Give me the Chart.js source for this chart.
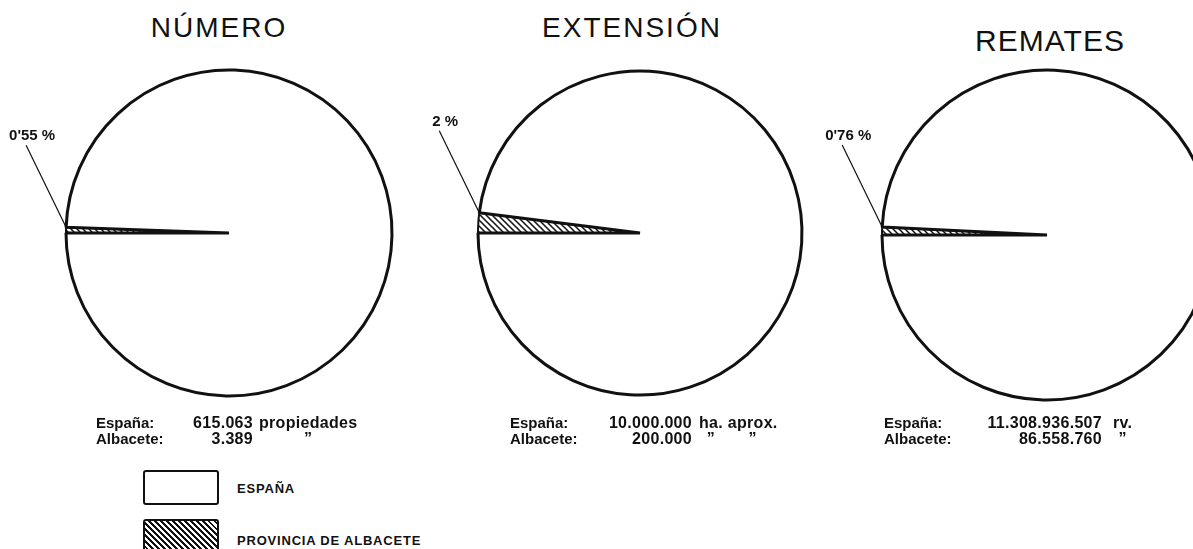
<!DOCTYPE html>
<html>
<head>
<meta charset="utf-8">
<script src="https://cdn.jsdelivr.net/npm/chart.js@4.4.1/dist/chart.umd.min.js"></script>
<style>
  html, body { margin: 0; padding: 0; background: #fff; }
  body { width: 1193px; height: 549px; overflow: hidden; position: relative;
         font-family: "Liberation Sans", Arial, sans-serif; color: #111; }
  canvas.pie { position: absolute; }
  .title { position: absolute; line-height: 30px; white-space: nowrap;
           transform: translateX(-50%); font-weight: normal; }
  .foot { position: absolute; font-weight: bold; font-size: 15px; line-height: 16px; white-space: nowrap; }
  .foot.num { font-size: 16px; letter-spacing: 0.3px; }
  .ditto { position: relative; display: inline-block; color: transparent; }
  .ditto span { position: absolute; left: 50%; top: 0; transform: translateX(-50%); color: #111; }
  .lbox { position: absolute; left: 143px; width: 72px; border: 2px solid #111; border-radius: 3px; }
  .ltext { position: absolute; left: 237px; font-weight: bold; font-size: 13px; letter-spacing: 0.8px; white-space: nowrap; }
</style>
</head>
<body>
<script>
// values
const titles = ['NÚMERO', 'EXTENSIÓN', 'REMATES'];
const espana = [615063, 10000000, 11308936507];
const albacete = [3389, 200000, 86558760];
const percentLabels = ["0'55 %", '2 %', "0'76 %"];
const units = [['propiedades'], ['ha.', 'aprox.'], ['rv.']];
const legendLabels = ['ESPAÑA', 'PROVINCIA DE ALBACETE'];

// page layout (centre of each pie, radius, text columns)
const layout = [
  { cx: 229, cy: 233, r: 163, titleX: 219, titleTop: 13, titleSize: 28, lx: 96, nx: 253, ux: 259 },
  { cx: 640, cy: 233, r: 162, titleX: 632, titleTop: 13, titleSize: 28, lx: 510, nx: 692, ux: 699 },
  { cx: 1047, cy: 235, r: 165, titleX: 1050, titleTop: 26, titleSize: 30, lx: 884, nx: 1102, ux: 1113 }
];

const fmt = n => String(n).replace(/\B(?=(\d{3})+(?!\d))/g, '.');

function hatchPattern() {
  const c = document.createElement('canvas');
  c.width = 6; c.height = 6;
  const g = c.getContext('2d');
  g.fillStyle = '#fff';
  g.fillRect(0, 0, 6, 6);
  g.strokeStyle = '#111';
  g.lineWidth = 1.5;
  g.beginPath();
  g.moveTo(-1, -1); g.lineTo(7, 7);
  g.moveTo(-1, 5); g.lineTo(1, 7);
  g.moveTo(5, -1); g.lineTo(7, 1);
  g.stroke();
  return g.createPattern(c, 'repeat');
}

// leader line + percentage label at the end of the hatched slice
const leaderPlugin = {
  id: 'leader',
  afterDraw(chart, args, opts) {
    const arc = chart.getDatasetMeta(0).data[0];
    const p = arc.getProps(['x', 'y', 'endAngle', 'outerRadius'], true);
    const px = p.x + Math.cos(p.endAngle) * p.outerRadius;
    const py = p.y + Math.sin(p.endAngle) * p.outerRadius;
    const tx = px - 40, ty = py - 82;
    const ctx = chart.ctx;
    ctx.save();
    ctx.strokeStyle = '#111';
    ctx.lineWidth = 1.2;
    ctx.beginPath();
    ctx.moveTo(px, py);
    ctx.lineTo(tx, ty);
    ctx.stroke();
    ctx.fillStyle = '#111';
    ctx.font = 'bold 15px "Liberation Sans", Arial, sans-serif';
    ctx.textAlign = 'center';
    ctx.textBaseline = 'alphabetic';
    ctx.fillText(opts.text, tx + 6, ty - 5);
    ctx.restore();
  }
};

const hatch = hatchPattern();

titles.forEach((t, i) => {
  const L = layout[i];
  const W = 500, H = 420;

  const title = document.createElement('div');
  title.className = 'title';
  title.textContent = t;
  title.style.left = L.titleX + 'px';
  title.style.top = L.titleTop + 'px';
  title.style.fontSize = L.titleSize + 'px';
  title.style.letterSpacing = (i === 2 ? 1 : 2) + 'px';
  document.body.appendChild(title);

  const cv = document.createElement('canvas');
  cv.className = 'pie';
  cv.width = W; cv.height = H;
  cv.style.left = (L.cx - W / 2) + 'px';
  cv.style.top = (L.cy - H / 2) + 'px';
  document.body.appendChild(cv);

  new Chart(cv.getContext('2d'), {
    type: 'pie',
    data: {
      labels: [legendLabels[1], legendLabels[0]],
      datasets: [{
        data: [albacete[i], espana[i] - albacete[i]],
        backgroundColor: [hatch, '#fff'],
        borderColor: '#111',
        borderWidth: [2, 3],
        hoverOffset: 0
      }]
    },
    options: {
      responsive: false,
      animation: false,
      devicePixelRatio: 1,
      rotation: 270,
      radius: L.r,
      layout: { padding: 0 },
      events: [],
      plugins: {
        legend: { display: false },
        tooltip: { enabled: false },
        title: { display: false },
        leader: { text: percentLabels[i] }
      }
    },
    plugins: [leaderPlugin]
  });

  // figures under each pie
  const rows = [['España:', espana[i], false], ['Albacete:', albacete[i], true]];
  rows.forEach((row, r) => {
    const top = 415 + r * 16;
    const lab = document.createElement('div');
    lab.className = 'foot';
    lab.textContent = row[0];
    lab.style.left = L.lx + 'px';
    lab.style.top = top + 'px';
    document.body.appendChild(lab);

    const num = document.createElement('div');
    num.className = 'foot num';
    num.textContent = fmt(row[1]);
    num.style.left = L.nx + 'px';
    num.style.top = top + 'px';
    num.style.transform = 'translateX(-100%)';
    document.body.appendChild(num);

    const un = document.createElement('div');
    un.className = 'foot num';
    un.style.left = L.ux + 'px';
    un.style.top = top + 'px';
    units[i].forEach((w, k) => {
      if (k > 0) un.appendChild(document.createTextNode(' '));
      const s = document.createElement('span');
      if (row[2]) {
        s.className = 'ditto';
        s.textContent = w;
        const d = document.createElement('span');
        d.textContent = '\u201D';
        s.appendChild(d);
      } else {
        s.textContent = w;
      }
      un.appendChild(s);
    });
    document.body.appendChild(un);
  });
});

// legend
const boxTops = [470, 519];
legendLabels.forEach((lab, k) => {
  const b = document.createElement('div');
  b.className = 'lbox';
  b.style.top = boxTops[k] + 'px';
  b.style.height = (k === 0 ? 31 : 36) + 'px';
  if (k === 1) {
    b.style.background = 'repeating-linear-gradient(45deg, #fff 0px, #fff 2.2px, #111 2.2px, #111 4.2px)';
  }
  document.body.appendChild(b);
  const t = document.createElement('div');
  t.className = 'ltext';
  t.textContent = lab;
  t.style.top = (k === 0 ? 481 : 533) + 'px';
  document.body.appendChild(t);
});
</script>
</body>
</html>
